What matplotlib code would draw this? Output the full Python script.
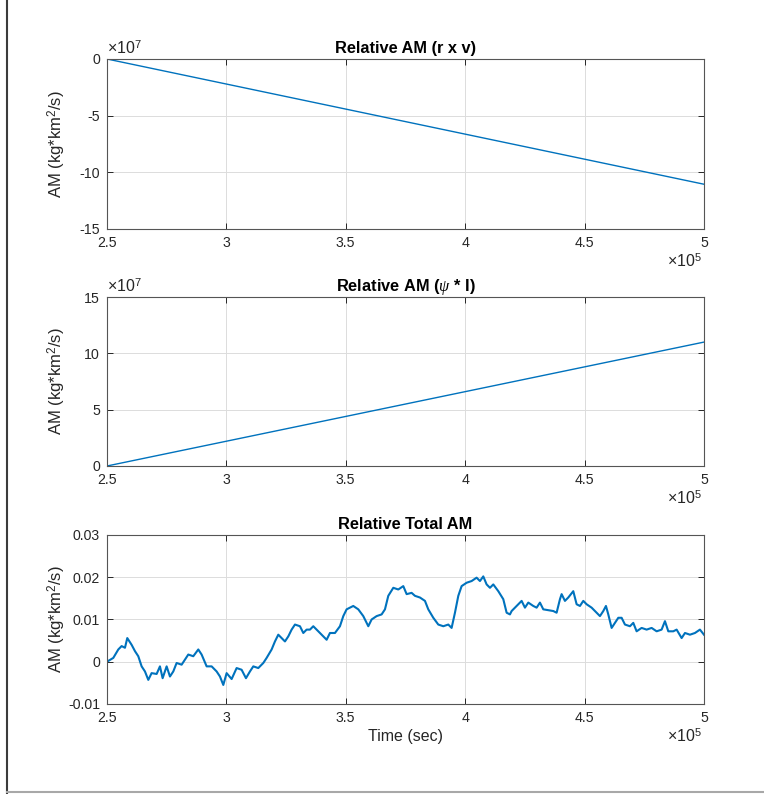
import matplotlib
matplotlib.use("Agg")
import matplotlib.pyplot as plt
from matplotlib.ticker import FuncFormatter
from matplotlib.lines import Line2D
import numpy as np

plt.rcParams['font.family'] = ['Liberation Sans', 'DejaVu Sans']
plt.rcParams['axes.unicode_minus'] = False
plt.rcParams['mathtext.fontset'] = 'custom'
plt.rcParams['mathtext.rm'] = 'Liberation Sans'
plt.rcParams['mathtext.it'] = 'Liberation Serif:italic'

# time axis endpoints (sec) for the two straight lines
t_lin = [2.5e5, 5.0e5]
am_rxv = [0.0, -1.105e8]
am_psi = [0.0, 1.10e8]

# relative total AM (time in units of 1e5 sec)
t_tot = [2.500, 2.5265, 2.5475, 2.5614, 2.5754, 2.5851, 2.6033, 2.6173, 2.6312, 2.6452,
         2.6591, 2.6731, 2.6870, 2.7080, 2.7219, 2.7331, 2.7499, 2.7638, 2.7778, 2.7917,
         2.8127, 2.8266, 2.8406, 2.8615, 2.8825, 2.8964, 2.9174, 2.9383, 2.9592, 2.9732,
         2.9872, 3.0011, 3.0221, 3.0430, 3.0639, 3.0821, 3.0988, 3.1128, 3.1337, 3.1547,
         3.1686, 3.1896, 3.2035, 3.2175, 3.2314, 3.2454, 3.2594, 3.2733, 3.2873, 3.3082,
         3.3222, 3.3361, 3.3501, 3.3640, 3.3850, 3.4059, 3.4199, 3.4338, 3.4548, 3.4757,
         3.4897, 3.5036, 3.5315, 3.5525, 3.5734, 3.5944, 3.6083, 3.6293, 3.6502, 3.6642,
         3.6781, 3.6991, 3.7200, 3.7409, 3.7549, 3.7758, 3.7898, 3.8107, 3.8317, 3.8456,
         3.8666, 3.8875, 3.9085, 3.9294, 3.9433, 3.9573, 3.9713, 3.9852, 4.0062, 4.0271,
         4.0480, 4.0620, 4.0759, 4.0899, 4.1039, 4.1178, 4.1388, 4.1597, 4.1737, 4.1876,
         4.1946, 4.2155, 4.2365, 4.2504, 4.2644, 4.2853, 4.2993, 4.3132, 4.3272, 4.3481,
         4.3691, 4.3830, 4.3970, 4.4040, 4.4179, 4.4319, 4.4528, 4.4668, 4.4807, 4.4947,
         4.5087, 4.5296, 4.5505, 4.5645, 4.5785, 4.5896, 4.5994, 4.6134, 4.6273, 4.6413,
         4.6552, 4.6692, 4.6901, 4.7041, 4.7180, 4.7390, 4.7599, 4.7809, 4.8018, 4.8227,
         4.8367, 4.8507, 4.8716, 4.8856, 4.9065, 4.9205, 4.9414, 4.9623, 4.9832, 5.0000]
am_tot = [0.0000, 0.0009, 0.0029, 0.0037, 0.0033, 0.0056, 0.0040, 0.0025, 0.0013, -0.0011,
          -0.0023, -0.0043, -0.0027, -0.0029, -0.0011, -0.0039, -0.0011, -0.0035, -0.0023, -0.0003,
          -0.0007, 0.0005, 0.0017, 0.0013, 0.0029, 0.0017, -0.0011, -0.0011, -0.0023, -0.0035,
          -0.0055, -0.0027, -0.0041, -0.0015, -0.0019, -0.0039, -0.0023, -0.0011, -0.0015, -0.0003,
          0.0009, 0.0029, 0.0048, 0.0064, 0.0056, 0.0048, 0.0060, 0.0076, 0.0088, 0.0084,
          0.0068, 0.0076, 0.0076, 0.0084, 0.0072, 0.0060, 0.0052, 0.0068, 0.0068, 0.0084,
          0.0108, 0.0124, 0.0132, 0.0124, 0.0108, 0.0084, 0.0100, 0.0108, 0.0112, 0.0124,
          0.0156, 0.0175, 0.0171, 0.0179, 0.0160, 0.0163, 0.0156, 0.0152, 0.0144, 0.0124,
          0.0104, 0.0088, 0.0084, 0.0088, 0.0080, 0.0116, 0.0156, 0.0179, 0.0187, 0.0191,
          0.0199, 0.0191, 0.0202, 0.0183, 0.0175, 0.0183, 0.0167, 0.0148, 0.0116, 0.0112,
          0.0120, 0.0132, 0.0144, 0.0128, 0.0140, 0.0132, 0.0128, 0.0140, 0.0124, 0.0122,
          0.0120, 0.0116, 0.0148, 0.0160, 0.0144, 0.0152, 0.0167, 0.0136, 0.0132, 0.0144,
          0.0136, 0.0128, 0.0116, 0.0108, 0.0120, 0.0132, 0.0112, 0.0080, 0.0092, 0.0104,
          0.0104, 0.0088, 0.0084, 0.0092, 0.0072, 0.0080, 0.0076, 0.0080, 0.0072, 0.0076,
          0.0096, 0.0072, 0.0072, 0.0076, 0.0056, 0.0068, 0.0064, 0.0068, 0.0076, 0.0064]

xticks = [2.5e5, 3e5, 3.5e5, 4e5, 4.5e5, 5e5]
titles = ['Relative AM (r x v)', r'Relative AM ($\psi$ * I)', 'Relative Total AM']
ylab = r'AM (kg*km$^2$/s)'

blue = '#0072BD'
dark = '#262626'

fig = plt.figure(figsize=(7.64, 7.94), dpi=100)

rects = [[0.140, 0.7116, 0.7814, 0.2141],
         [0.140, 0.4131, 0.7814, 0.2128],
         [0.140, 0.1134, 0.7814, 0.2128]]
axs = [fig.add_axes(r) for r in rects]

axs[0].plot(t_lin, am_rxv, color=blue, lw=1.0)
axs[1].plot(t_lin, am_psi, color=blue, lw=1.0)
axs[2].plot(np.array(t_tot) * 1e5, am_tot, color=blue, lw=1.5)

axs[0].set_ylim(-1.5e8, 0)
axs[0].set_yticks([-1.5e8, -1e8, -5e7, 0])
axs[1].set_ylim(0, 1.5e8)
axs[1].set_yticks([0, 5e7, 1e8, 1.5e8])
axs[2].set_ylim(-0.01, 0.03)
axs[2].set_yticks([-0.01, 0, 0.01, 0.02, 0.03])

for i, ax in enumerate(axs):
    ax.set_xlim(2.5e5, 5e5)
    ax.set_xticks(xticks)
    ax.xaxis.set_major_formatter(FuncFormatter(lambda v, p: '%g' % (v / 1e5)))
    if i < 2:
        ax.yaxis.set_major_formatter(FuncFormatter(lambda v, p: '%g' % (v / 1e7)))
        ax.text(0.0, 1.01, r'$\times$10$^7$', transform=ax.transAxes, fontsize=11.5,
                color=dark, ha='left', va='bottom')
    else:
        ax.yaxis.set_major_formatter(FuncFormatter(lambda v, p: '%g' % v))
    ax.text(0.997, -0.135, r'$\times$10$^5$', transform=ax.transAxes, fontsize=11.5,
            color=dark, ha='right', va='top')
    ax.grid(True, color='#dcdcdc', lw=0.7)
    ax.set_axisbelow(True)
    ax.tick_params(direction='in', top=True, right=True, length=4, width=0.7,
                   colors=dark, labelsize=10.2, pad=5)
    for s in ax.spines.values():
        s.set_color('#555555')
        s.set_linewidth(0.8)
    ax.set_title(titles[i], fontsize=11.8, fontweight='bold', color='black', pad=4)
    ax.set_ylabel(ylab, fontsize=12, color=dark)
    ax.yaxis.set_label_coords(-0.066, 0.5)

axs[2].set_xlabel('Time (sec)', fontsize=11.5, color=dark, labelpad=3)

# window frame lines
fig.add_artist(Line2D([0.0095, 0.0095], [0, 1], transform=fig.transFigure, color='#3c3c3c', lw=1.5))
fig.add_artist(Line2D([0.0095, 1], [0.003, 0.003], transform=fig.transFigure, color='#a8a8a8', lw=1.5))

fig.savefig('out.png', dpi=100)
